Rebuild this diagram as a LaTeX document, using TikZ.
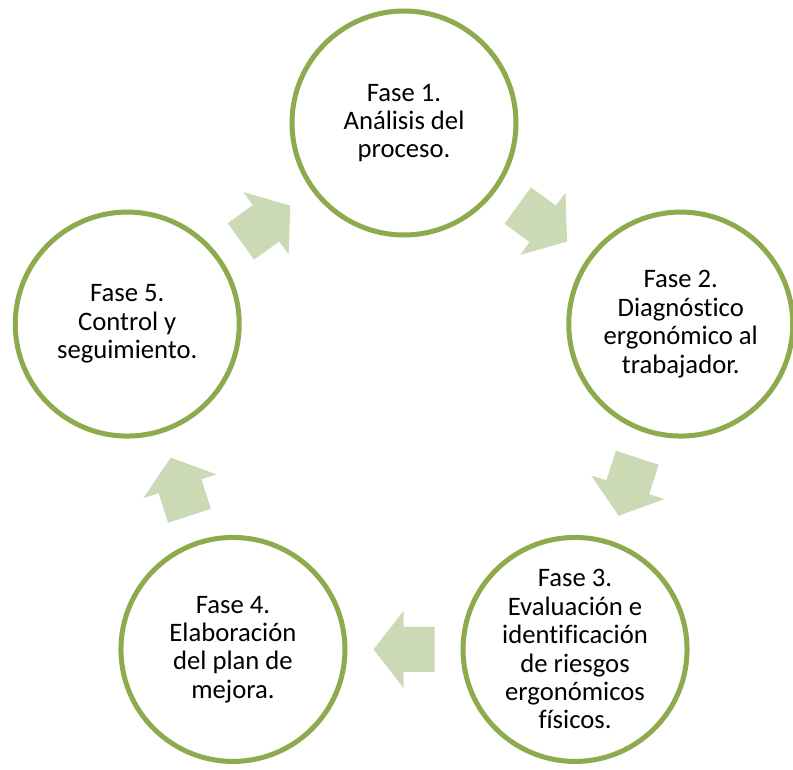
\documentclass[tikz,border=0pt]{standalone}
\usepackage{fontspec}
\setmainfont[Ligatures={NoCommon,NoContextual}]{Carlito}
\usepackage{xcolor}
\usepackage{tikz}
\usetikzlibrary{calc}
\definecolor{ring}{HTML}{8DAA4D}
\definecolor{paleolive}{HTML}{CBD9B5}

\tikzset{
  fase/.style={circle, draw=ring, line width=3.75pt, fill=white,
               minimum size=168pt, inner sep=0pt, align=center,
               font=\fontsize{20}{21.3}\selectfont},
  blockarrow/.pic={
    \fill[paleolive] (-30.5,-22.5) -- (0.5,-22.5) -- (0.5,-38.5) -- (30.5,0)
      -- (0.5,38.5) -- (0.5,22.5) -- (-30.5,22.5) -- cycle;
  }
}

\begin{document}
\begin{tikzpicture}[x=0.75pt,y=0.75pt]
\useasboundingbox (0,0) rectangle (793,769);
\coordinate (c) at (404,355);

% the five phases, on a ring of radius 291
\node[fase] (f1) at ($(c)+(90:291)$)  {Fase 1.\\Análisis del\\proceso.};
\node[fase] (f2) at ($(c)+(18:291)$)  {Fase 2.\\Diagnóstico\\ergonómico al\\trabajador.};
\node[fase] (f3) at ($(c)+(-54:291)$) {Fase 3.\\Evaluación e\\identificación\\de riesgos\\ergonómicos\\físicos.};
\node[fase] (f4) at ($(c)+(-126:291)$){Fase 4.\\Elaboración\\del plan de\\mejora.};
\node[fase] (f5) at ($(c)+(162:291)$) {Fase 5.\\Control y\\seguimiento.};

% block arrows halfway between neighbours
\foreach \i/\j/\a in {1/2/-36, 2/3/-108, 3/4/180, 4/5/108, 5/1/36}
  \path ($(f\i)!0.5!(f\j)$) pic[rotate=\a] {blockarrow};
\end{tikzpicture}
\end{document}
